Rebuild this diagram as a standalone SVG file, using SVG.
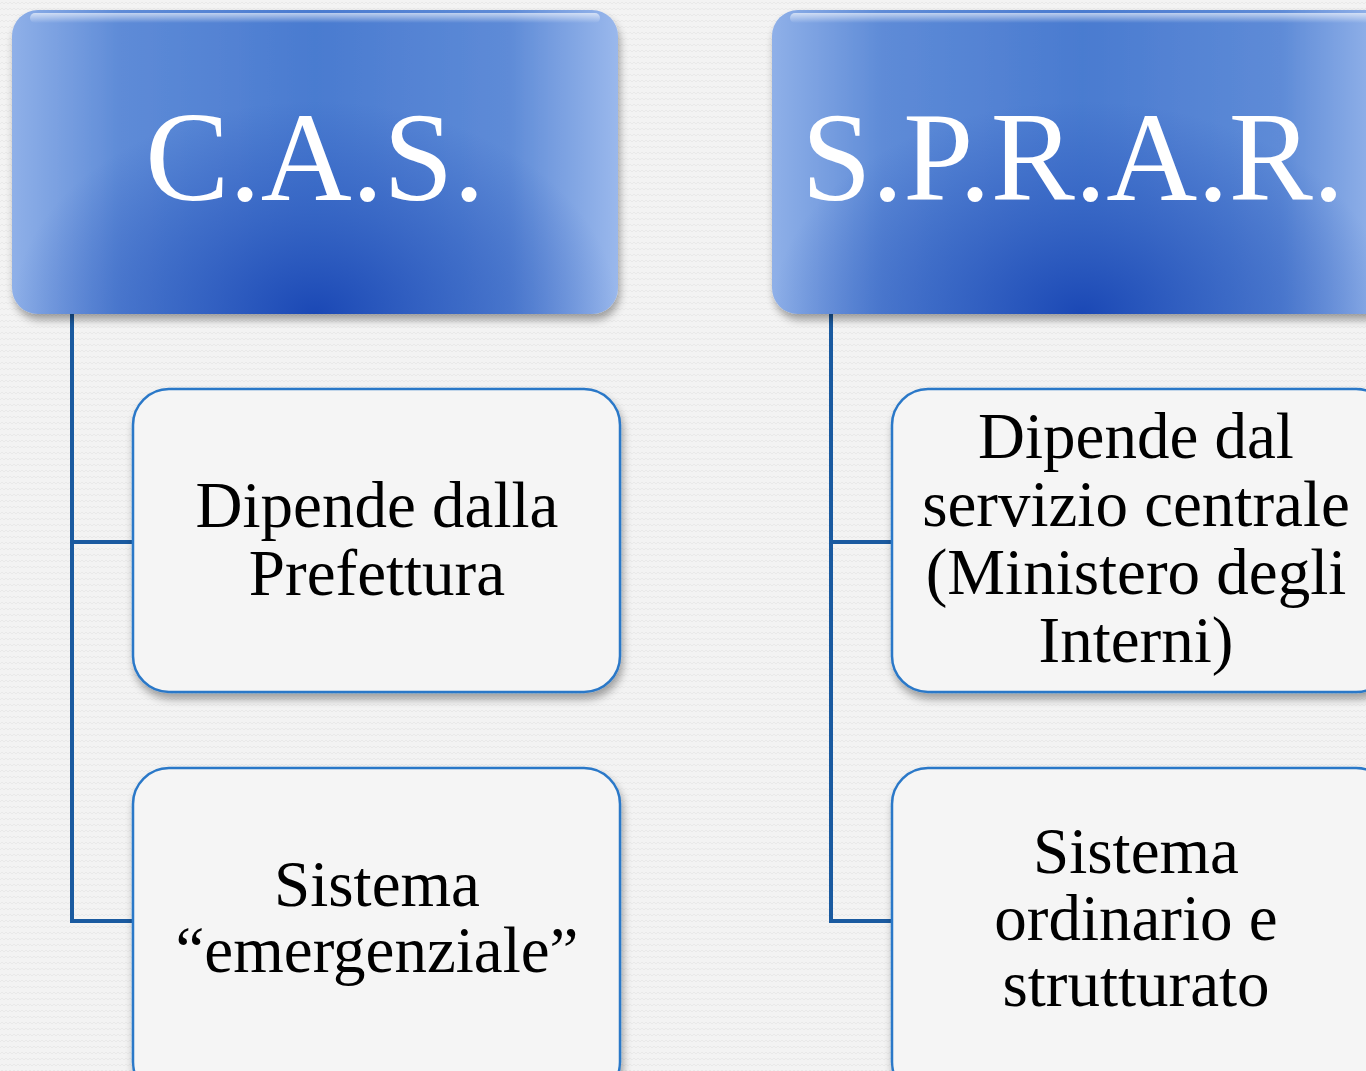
<svg xmlns="http://www.w3.org/2000/svg" width="1366" height="1071" viewBox="0 0 1366 1071">
<defs>
<pattern id="bgp" width="8" height="6" patternUnits="userSpaceOnUse">
<rect width="8" height="6" fill="#f3f3f3"/>
<path d="M0 4 L2 2 L4 4 L6 2 L8 4" fill="none" stroke="#e6e6e6" stroke-width="0.8"/>
</pattern>
<linearGradient id="hbase" x1="0" y1="0" x2="1" y2="0">
<stop offset="0" stop-color="#8fb0e8"/>
<stop offset="0.18" stop-color="#5e8bd7"/>
<stop offset="0.5" stop-color="#4a7bd0"/>
<stop offset="0.82" stop-color="#5e8bd7"/>
<stop offset="1" stop-color="#9ab8ec"/>
</linearGradient>
<radialGradient id="hdark" cx="0.5" cy="1" r="0.5" gradientTransform="translate(0.5 1) scale(1 1.4) translate(-0.5 -1)">
<stop offset="0" stop-color="#1b48b5" stop-opacity="1"/>
<stop offset="0.5" stop-color="#2a58bd" stop-opacity="0.6"/>
<stop offset="1" stop-color="#2a58bd" stop-opacity="0"/>
</radialGradient>
<linearGradient id="gloss" x1="0" y1="0" x2="0" y2="1">
<stop offset="0" stop-color="#ffffff" stop-opacity="0.9"/>
<stop offset="1" stop-color="#ffffff" stop-opacity="0"/>
</linearGradient>
<filter id="sh" x="-10%" y="-10%" width="120%" height="130%">
<feGaussianBlur in="SourceAlpha" stdDeviation="4"/>
<feOffset dx="2" dy="6" result="b"/>
<feComponentTransfer><feFuncA type="linear" slope="0.35"/></feComponentTransfer>
<feMerge><feMergeNode/><feMergeNode in="SourceGraphic"/></feMerge>
</filter>
</defs>
<style>
.hdr{fill:url(#hbase);filter:url(#sh)}
.ht{font-family:"Liberation Serif","DejaVu Serif",serif;font-size:126px;fill:#ffffff;text-anchor:middle}
.box{fill:#f5f5f5;stroke:#2a78c8;stroke-width:2.5;filter:url(#sh)}
.bt{font-family:"Liberation Serif","DejaVu Serif",serif;font-size:65px;fill:#000000;text-anchor:middle}
.con{fill:none;stroke:#1a5aa0;stroke-width:4}
</style>
<rect width="1366" height="1071" fill="url(#bgp)"/>
<g id="connectors">
<path class="con" d="M72 312 V921 H135 M72 542 H135"/>
<path class="con" d="M831 312 V921 H894 M831 542 H894"/>
</g>
<g id="cas">
<rect class="hdr" x="12" y="10" width="606" height="304" rx="26"/>
<rect x="12" y="10" width="606" height="304" rx="26" fill="url(#hdark)"/>
<rect x="30" y="13" width="570" height="10" rx="5" fill="url(#gloss)" opacity="0.7"/>
<text class="ht" x="315" y="200">C.A.S.</text>
</g>
<g id="sprar">
<rect class="hdr" x="772" y="10" width="620" height="304" rx="26"/>
<rect x="772" y="10" width="620" height="304" rx="26" fill="url(#hdark)"/>
<rect x="790" y="13" width="580" height="10" rx="5" fill="url(#gloss)" opacity="0.7"/>
<text class="ht" x="1073" y="200">S.P.R.A.R.</text>
</g>
<g id="cas-1">
<rect class="box" x="133" y="389" width="487" height="303" rx="36"/>
<text class="bt" x="377" y="527">Dipende dalla</text>
<text class="bt" x="377" y="595">Prefettura</text>
</g>
<g id="cas-2">
<rect class="box" x="133" y="768" width="487" height="330" rx="36"/>
<text class="bt" x="377" y="906">Sistema</text>
<text class="bt" x="377" y="972">“emergenziale”</text>
</g>
<g id="sprar-1">
<rect class="box" x="892" y="389" width="500" height="303" rx="36"/>
<text class="bt" x="1136" y="458">Dipende dal</text>
<text class="bt" x="1136" y="526">servizio centrale</text>
<text class="bt" x="1136" y="594">(Ministero degli</text>
<text class="bt" x="1136" y="662">Interni)</text>
</g>
<g id="sprar-2">
<rect class="box" x="892" y="768" width="500" height="330" rx="36"/>
<text class="bt" x="1136" y="873">Sistema</text>
<text class="bt" x="1136" y="940">ordinario e</text>
<text class="bt" x="1136" y="1006">strutturato</text>
</g>
</svg>
